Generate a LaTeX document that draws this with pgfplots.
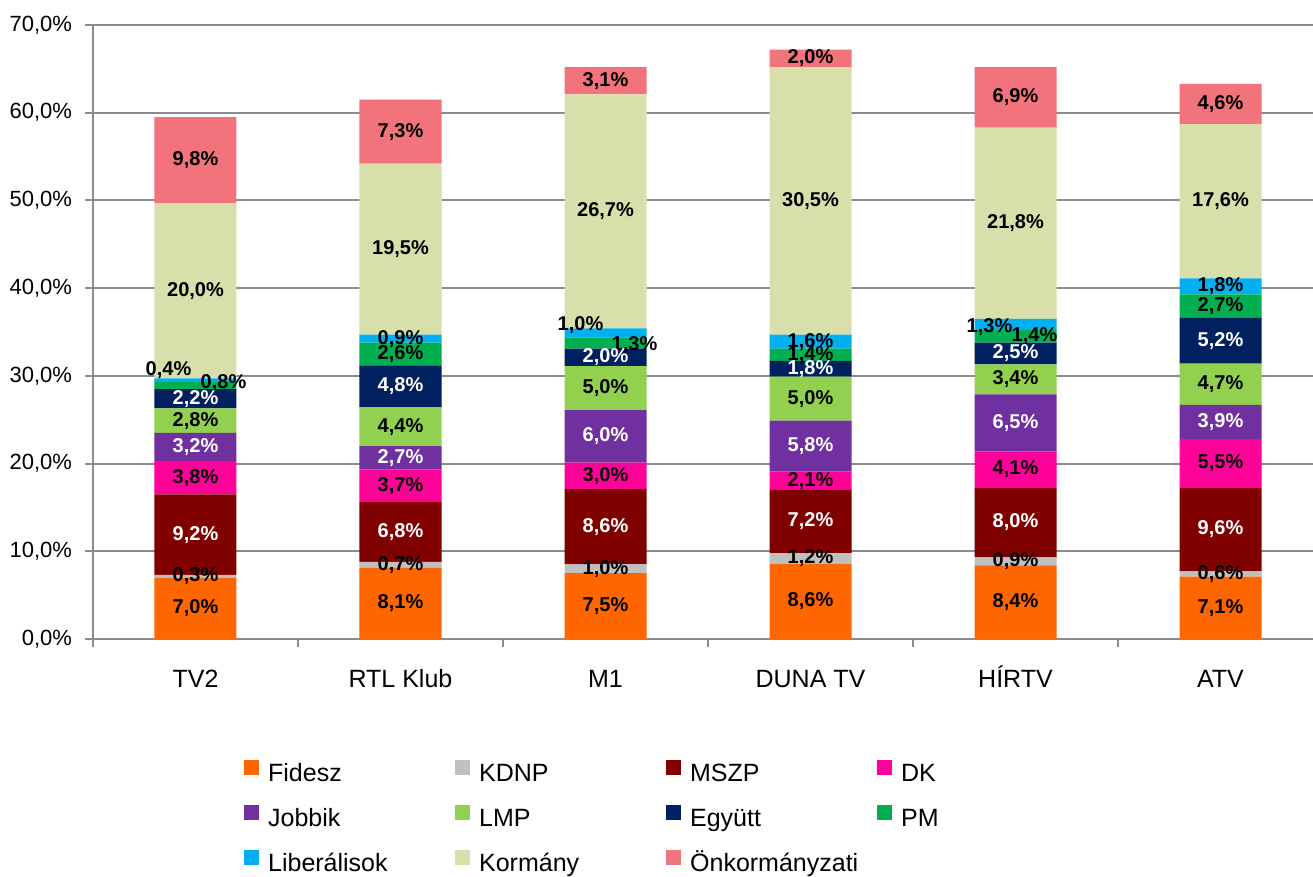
\documentclass[border=0pt]{standalone}
\usepackage{fontspec}
\setmainfont{Liberation Sans}
\usepackage{pgfplots}
\usepackage{pgfplotstable}
\pgfplotsset{compat=1.18}

\definecolor{cFid}{HTML}{FF6600}
\definecolor{cKdnp}{HTML}{C0C0C0}
\definecolor{cMszp}{HTML}{800000}
\definecolor{cDk}{HTML}{FF0099}
\definecolor{cJob}{HTML}{7030A0}
\definecolor{cLmp}{HTML}{92D050}
\definecolor{cEgy}{HTML}{002060}
\definecolor{cPm}{HTML}{00B050}
\definecolor{cLib}{HTML}{00B0F0}
\definecolor{cKorm}{HTML}{D9DFAB}
\definecolor{cOnk}{HTML}{F2737B}
\definecolor{axgray}{HTML}{8C8C8C}

% shares in percent, one row per channel; dx/dy = moved labels (pt)
\pgfplotstableread{
x ch    Fidesz KDNP MSZP DK  Jobbik LMP Egyutt PM  Lib Korm Onk libdx libdy pmdx pmdy
0 TV2   7.0    0.3  9.2  3.8 3.2    2.8 2.2    0.8 0.4 20.0 9.8 -13.5 5    14   1.2
1 RTL   8.1    0.7  6.8  3.7 2.7    4.4 4.8    2.6 0.9 19.5 7.3 0     0    0    0
2 M1    7.5    1.0  8.6  3.0 6.0    5.0 2.0    1.3 1.0 26.7 3.1 -12.5 4    14.5 -1
3 DUNA  8.6    1.2  7.2  2.1 5.8    5.0 1.8    1.4 1.6 30.5 2.0 0     0    0    0
4 HIRTV 8.4    0.9  8.0  4.1 6.5    3.4 2.5    1.4 1.3 21.8 6.9 -13   -1.2 9.5  0
5 ATV   7.1    0.6  9.6  5.5 3.9    4.7 5.2    2.7 1.8 17.6 4.6 0     0    0    0
}\data

% labels sit in the middle of each segment
\pgfplotsset{
  lbl/.style={
    nodes near coords={\pgfmathprintnumber[fixed,fixed zerofill,precision=1,use comma]{\rawy}\%},
    visualization depends on={rawy \as \rawy},
    every node near coord/.append style={anchor=center, inner sep=0pt,
      font=\fontsize{10}{12}\selectfont\bfseries, text=#1},
  },
  lbl/.default=black,
}

\begin{document}
\begin{tikzpicture}
\begin{axis}[
  scale only axis, width=615pt, height=307pt,
  ybar stacked, bar width=41pt,
  xmin=-0.5, xmax=5.5, ymin=0, ymax=70,
  xtick={0,...,5},
  xticklabels={TV2,RTL Klub,M1,DUNA TV,HÍRTV,ATV},
  minor xtick={-0.5,0.5,...,5.5},
  ytick={0,10,...,70},
  yticklabel={\pgfmathprintnumber[fixed,fixed zerofill,precision=1,use comma]{\tick}\%},
  /pgf/number format/assume math mode=true,
  axis x line*=bottom, axis y line*=left,
  axis line style={axgray, line width=1pt},
  ymajorgrids, grid style={axgray, line width=1pt},
  tick align=outside, major tick length=4pt, minor tick length=4pt,
  tick style={axgray, line width=1pt},
  major x tick style={draw=none},
  yticklabel style={font=\fontsize{11}{13}\selectfont, xshift=-3pt},
  xticklabel style={font=\fontsize{12.5}{15}\selectfont, yshift=-7pt,
    text height=9.5pt, text depth=0pt},
  legend columns=4,
  legend cell align=left,
  legend image code/.code={\fill[#1,draw=none] (0pt,0.5pt) rectangle (7.5pt,8pt);},
  legend style={at={(0.1229,-0.197)}, anchor=north west, draw=none,
    inner sep=0pt, outer sep=0pt, font=\fontsize{12.5}{15}\selectfont,
    column sep=0pt, row sep=8.5pt,
    nodes={inner sep=0pt, text width=93.5pt, text height=9pt, text depth=3pt, align=left},
    /tikz/every odd column/.append style={column sep=4.5pt}},
]
\coordinate (O) at (rel axis cs:0,0);
\addplot[fill=cFid, draw=none, lbl] table[x=x, y=Fidesz]{\data};
\addplot[fill=cKdnp, draw=none, lbl] table[x=x, y=KDNP]{\data};
\addplot[fill=cMszp, draw=none, lbl=white] table[x=x, y=MSZP]{\data};
\addplot[fill=cDk, draw=none, lbl] table[x=x, y=DK]{\data};
\addplot[fill=cJob, draw=none, lbl=white] table[x=x, y=Jobbik]{\data};
\addplot[fill=cLmp, draw=none, lbl] table[x=x, y=LMP]{\data};
\addplot[fill=cEgy, draw=none, lbl=white] table[x=x, y=Egyutt]{\data};
\addplot[fill=cPm, draw=none, lbl,
  visualization depends on={\thisrow{pmdx} \as \dx},
  visualization depends on={\thisrow{pmdy} \as \dy},
  every node near coord/.append style={xshift=\dx pt, yshift=\dy pt}]
  table[x=x, y=PM]{\data};
\addplot[fill=cLib, draw=none, lbl,
  visualization depends on={\thisrow{libdx} \as \dx},
  visualization depends on={\thisrow{libdy} \as \dy},
  every node near coord/.append style={xshift=\dx pt, yshift=\dy pt}]
  table[x=x, y=Lib]{\data};
\addplot[fill=cKorm, draw=none, lbl] table[x=x, y=Korm]{\data};
\addplot[fill=cOnk, draw=none, lbl] table[x=x, y=Onk]{\data};
\legend{Fidesz,KDNP,MSZP,DK,Jobbik,LMP,Együtt,PM,Liberálisok,Kormány,Önkormányzati}
\end{axis}
\pgfresetboundingbox
\path[use as bounding box] ([shift={(-46.5pt,-119pt)}]O) rectangle ([shift={(610pt,319.5pt)}]O);
\end{tikzpicture}
\end{document}
